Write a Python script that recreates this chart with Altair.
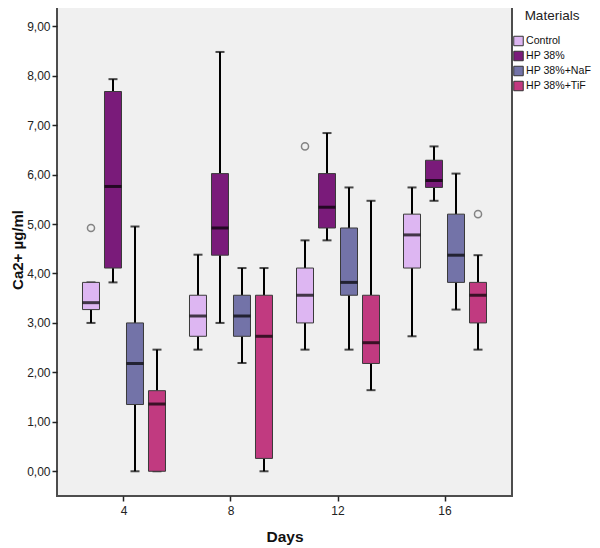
import altair as alt
import pandas as pd

days = ["4", "8", "12", "16"]
materials = ["Control", "HP 38%", "HP 38%+NaF", "HP 38%+TiF"]
colors = ["#DDB6F2", "#7A1B7A", "#7373A8", "#C13A80"]

# values per material, in order of days 4, 8, 12, 16
whisker_low = {
    "Control": [3.00, 2.46, 2.46, 2.73],
    "HP 38%": [3.82, 3.00, 4.67, 5.47],
    "HP 38%+NaF": [0.00, 2.19, 2.46, 3.27],
    "HP 38%+TiF": [0.00, 0.00, 1.64, 2.46],
}
q1 = {
    "Control": [3.27, 2.73, 3.00, 4.11],
    "HP 38%": [4.11, 4.37, 4.92, 5.74],
    "HP 38%+NaF": [1.35, 2.73, 3.56, 3.82],
    "HP 38%+TiF": [0.00, 0.26, 2.18, 3.00],
}
median = {
    "Control": [3.41, 3.14, 3.56, 4.78],
    "HP 38%": [5.76, 4.92, 5.34, 5.88],
    "HP 38%+NaF": [2.18, 3.14, 3.82, 4.37],
    "HP 38%+TiF": [1.36, 2.73, 2.60, 3.56],
}
q3 = {
    "Control": [3.82, 3.56, 4.11, 5.20],
    "HP 38%": [7.68, 6.02, 6.02, 6.29],
    "HP 38%+NaF": [3.00, 3.56, 4.92, 5.20],
    "HP 38%+TiF": [1.63, 3.56, 3.56, 3.82],
}
whisker_high = {
    "Control": [3.82, 4.38, 4.67, 5.74],
    "HP 38%": [7.93, 8.48, 6.84, 6.57],
    "HP 38%+NaF": [4.95, 4.11, 5.74, 6.02],
    "HP 38%+TiF": [2.46, 4.11, 5.47, 4.37],
}
outlier_day = ["4", "12", "16"]
outlier_material = ["Control", "Control", "HP 38%+TiF"]
outlier_value = [4.92, 6.57, 5.20]

rows = []
for m in materials:
    for i, d in enumerate(days):
        rows.append({
            "Days": d, "Material": m,
            "low": whisker_low[m][i], "q1": q1[m][i], "median": median[m][i],
            "q3": q3[m][i], "high": whisker_high[m][i],
        })
df = pd.DataFrame(rows)
out_df = pd.DataFrame({"Days": outlier_day, "Material": outlier_material, "value": outlier_value})

FONT = "Liberation Sans"

x_enc = alt.X("Days:N", sort=days,
              scale=alt.Scale(paddingInner=0, paddingOuter=0.126),
              axis=alt.Axis(title="Days", labelAngle=0, titleFontWeight="bold",
                            titleFontSize=15.5, titlePadding=13, labelPadding=4))
xoff = alt.XOffset("Material:N", sort=materials,
                   scale=alt.Scale(paddingInner=0, paddingOuter=0.432))
y_scale = alt.Scale(domain=[-0.5, 9.47], nice=False, zero=False)
y_axis = alt.Axis(title="Ca2+ µg/ml", values=list(range(10)),
                  labelExpr="replace(format(datum.value, '.2f'), '.', ',')",
                  titleFontWeight="bold", titleFontSize=15, titlePadding=1)

base = alt.Chart(df).encode(x=x_enc, xOffset=xoff)

whisk_lo = base.mark_rule(color="black", strokeWidth=2).encode(
    y=alt.Y("low:Q", scale=y_scale, axis=y_axis), y2="q1:Q")
whisk_hi = base.mark_rule(color="black", strokeWidth=2).encode(
    y=alt.Y("q3:Q", scale=y_scale), y2="high:Q")
cap_lo = base.mark_tick(color="black", size=9, thickness=2).encode(
    y=alt.Y("low:Q", scale=y_scale))
cap_hi = base.mark_tick(color="black", size=9, thickness=2).encode(
    y=alt.Y("high:Q", scale=y_scale))
box = base.mark_bar(size=17, stroke="#3a3a3a", strokeWidth=1).encode(
    y=alt.Y("q1:Q", scale=y_scale), y2="q3:Q",
    color=alt.Color("Material:N", sort=materials,
                    scale=alt.Scale(domain=materials, range=colors),
                    legend=alt.Legend(title="Materials", orient="none",
                                      legendX=456, legendY=6,
                                      symbolType="square", symbolSize=90,
                                      symbolStrokeColor="#333", symbolStrokeWidth=1,
                                      symbolOpacity=1, titleAnchor="middle",
                                      rowPadding=0, titlePadding=13,
                                      labelFontSize=10.6, titleFontSize=13.5,
                                      titleFontWeight="normal", labelOffset=2,
                                      labelLimit=200)))
med = base.mark_tick(color="black", size=17, thickness=3).encode(
    y=alt.Y("median:Q", scale=y_scale))
outl = alt.Chart(out_df).mark_point(shape="circle", filled=False, color="#555",
                                    size=50, strokeWidth=1.5).encode(
    x=alt.X("Days:N", sort=days), xOffset=alt.XOffset("Material:N", sort=materials),
    y=alt.Y("value:Q", scale=y_scale))

chart = alt.layer(whisk_lo, whisk_hi, cap_lo, cap_hi, box, med, outl).properties(
    width=455, height=493,
    autosize=alt.AutoSizeParams(type="none"),
    padding={"left": 49, "top": -5, "right": 80, "bottom": 50},
).configure_view(
    fill="#F0F0F0", stroke="#4d4d4d", strokeWidth=2
).configure_axis(
    domain=False, grid=False, tickColor="#222", tickSize=5, tickWidth=1.5,
    labelFont=FONT, titleFont=FONT, labelFontSize=12, labelColor="#222",
    titleColor="#111"
).configure_legend(
    labelFont=FONT, titleFont=FONT, labelColor="#111", titleColor="#222"
)

chart.save("out.html", embed_options={"renderer": "svg", "actions": False})
